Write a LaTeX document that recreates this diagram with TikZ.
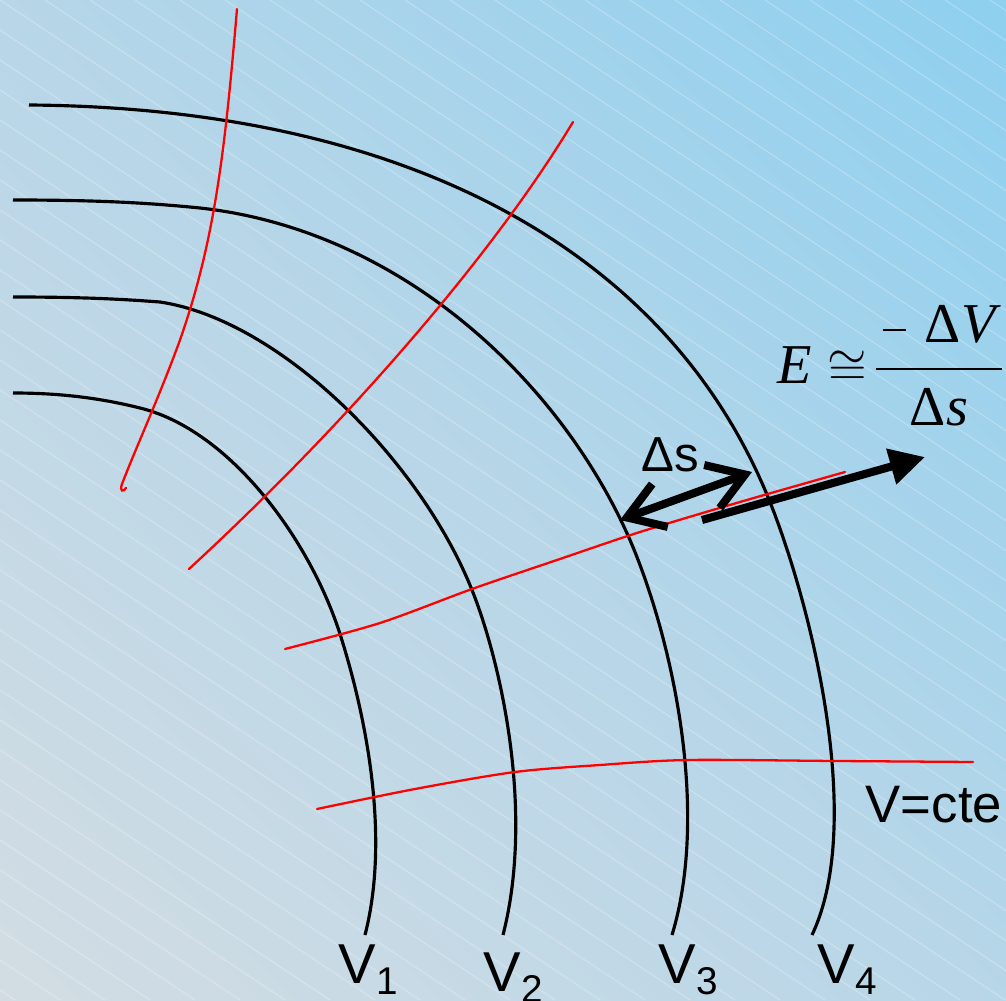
\documentclass[tikz,border=0pt]{standalone}
\usepackage{amsmath}
\usepackage{fontspec}
\setmainfont{Liberation Sans}
\newfontfamily\timesfont{Liberation Serif}
\usetikzlibrary{arrows.meta}
\definecolor{bgblue}{RGB}{125,205,242}
\definecolor{bgmid}{RGB}{183,214,232}
\definecolor{bggray}{RGB}{222,223,225}
\pgfdeclareverticalshading{bgshade}{100bp}{color(0bp)=(bggray); color(50bp)=(bgmid); color(100bp)=(bgblue)}
\begin{document}
\begin{tikzpicture}[x=0.1mm,y=-0.1mm,
  equi/.style={line width=0.9pt,black},
  fieldline/.style={line width=0.65pt,red,line cap=round},
  hatch/.style={white,opacity=0.25,line width=0.35pt},
  vlab/.style={font=\fontsize{16}{18}\selectfont,inner sep=0pt,anchor=base west},
  eqlab/.style={font=\timesfont\fontsize{16}{19}\selectfont,inner sep=0pt,anchor=base west}]
\shade[shading=bgshade,shading angle=-45] (0,0) rectangle (1006,1001);
\begin{scope}
\clip (0,0) rectangle (1006,1001);
\foreach \k in {-34,...,23}
  \draw[hatch] (\k*45,0) -- ++(1500,1000);
\end{scope}
\useasboundingbox (0,0) rectangle (1006,1001);
% equipotentials
\draw[equi] (29,105) .. controls (420,108) and (680,260) .. (775,515)
  .. controls (818,630) and (862,830) .. (812,935);
\draw[equi] (13,200) .. controls (100,200) and (150,203) .. (200,208)
  .. controls (400,230) and (560,380) .. (630,540)
  .. controls (672,638) and (710,810) .. (672,935);
\draw[equi] (13,297) .. controls (80,297) and (120,299) .. (160,302)
  .. controls (280,320) and (420,460) .. (472,590)
  .. controls (500,660) and (535,810) .. (503,935);
\draw[equi] (13,393) .. controls (60,393) and (100,398) .. (140,408)
  .. controls (230,430) and (310,540) .. (340,634)
  .. controls (362,703) and (392,830) .. (365,935);
% field lines
\draw[fieldline] (237,9) .. controls (225,150) and (215,240) .. (180,340)
  .. controls (160,395) and (135,450) .. (122,484)
  .. controls (119,492) and (124,492) .. (126,488);
\draw[fieldline] (573,122) .. controls (490,260) and (340,430) .. (189,569);
\draw[fieldline] plot[smooth] coordinates {(285,649) (380,623) (472,589) (557,560) (640,532) (740,502) (845,472)};
\draw[fieldline] plot[smooth] coordinates {(317,809) (415,789) (515,772) (600,765) (688,760) (836,761) (973,762)};
% arrows
\coordinate (ds1) at (620,520);
\coordinate (ds2) at (752,472);
\draw[line width=2.3pt,{Straight Barb[length=10pt,width=13pt]}-{Straight Barb[length=10pt,width=13pt]}] (ds1) -- (ds2);
\coordinate (e1) at (702,520);
\coordinate (e2) at (925,457);
\draw[line width=2.3pt,-{Triangle[length=10pt,width=10pt]}] (e1) -- (e2);
% labels
\node[vlab,font=\fontsize{14}{16}\selectfont] (ds) at (641,471) {Δs};
\node[eqlab] (eqE) at (777,384) {\itshape E};
\node[eqlab,font=\fontsize{13.5}{15}\selectfont] (eqcong) at (827,384) {$\cong$};
\node[eqlab] (eqfrac) at (875,384)
  {$\nulldelimiterspace=0pt\dfrac{\makebox[36pt][l]{\hspace{2pt}\rule[3.5pt]{6.5pt}{0.6pt}\hspace{5.5pt}Δ\itshape V}}{\mbox{Δ\itshape s}}$};
\node[vlab,font=\fontsize{15}{18}\selectfont] (cte) at (865,822) {V=cte};
\node[vlab] (v1) at (338,983) {V\raisebox{-3.4pt}{\fontsize{11}{13}\selectfont 1}};
\node[vlab] (v2) at (483,991) {V\raisebox{-3.4pt}{\fontsize{11}{13}\selectfont 2}};
\node[vlab] (v3) at (658,983) {V\raisebox{-3.4pt}{\fontsize{11}{13}\selectfont 3}};
\node[vlab] (v4) at (817,983) {V\raisebox{-3.4pt}{\fontsize{11}{13}\selectfont 4}};
\end{tikzpicture}
\end{document}
